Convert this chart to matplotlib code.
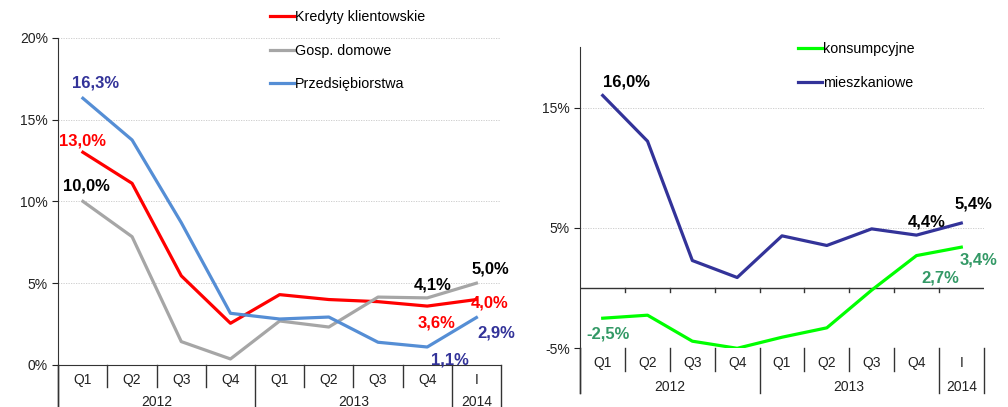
import matplotlib
matplotlib.use("Agg")
import matplotlib.pyplot as plt
import matplotlib.transforms as mtransforms
from matplotlib.lines import Line2D

plt.rcParams['font.family'] = ['Liberation Sans', 'DejaVu Sans']

# ---------------- data ----------------
quarters = ["Q1", "Q2", "Q3", "Q4", "Q1", "Q2", "Q3", "Q4", "I"]
years = ["2012", "2013", "2014"]
year_spans = [(0, 4), (4, 8), (8, 9)]

kredyty = [13.0, 11.1, 5.45, 2.55, 4.3, 4.0, 3.87, 3.6, 4.0]
gosp = [10.0, 7.84, 1.43, 0.37, 2.69, 2.32, 4.15, 4.1, 5.0]
przeds = [16.3, 13.75, 8.7, 3.16, 2.81, 2.93, 1.39, 1.1, 2.9]

konsump = [-2.5, -2.25, -4.41, -5.0, -4.08, -3.3, -0.17, 2.7, 3.4]
mieszk = [16.0, 12.2, 2.29, 0.88, 4.34, 3.54, 4.92, 4.4, 5.4]

# labels: (series, index, text)
left_labels = [
    ("przeds", 0, "16,3%"), ("kredyty", 0, "13,0%"), ("gosp", 0, "10,0%"),
    ("gosp", 7, "4,1%"), ("gosp", 8, "5,0%"), ("kredyty", 8, "4,0%"),
    ("kredyty", 7, "3,6%"), ("przeds", 8, "2,9%"), ("przeds", 7, "1,1%"),
]
right_labels = [
    ("mieszk", 0, "16,0%"), ("mieszk", 8, "5,4%"), ("mieszk", 7, "4,4%"),
    ("konsump", 8, "3,4%"), ("konsump", 7, "2,7%"), ("konsump", 0, "-2,5%"),
]

# ---------------- styles ----------------
W, H = 1008, 407
C_RED = "#FF0000"
C_GRAY = "#A6A6A6"
C_BLUE = "#558ED5"
C_NAVY = "#333399"
C_LIME = "#00FF00"
C_GREEN = "#339966"
LW = 2.3
FS_TICK = 10
FS_LEG = 10.3
FS_ANN = 12
FS_CAT = 10

series_left = {"kredyty": kredyty, "gosp": gosp, "przeds": przeds}
series_right = {"konsump": konsump, "mieszk": mieszk}
label_style = {
    ("przeds", 0): (C_NAVY, 13, 15), ("kredyty", 0): (C_RED, 0, 11),
    ("gosp", 0): ("black", 4, 15), ("gosp", 7): ("black", 5, 13),
    ("gosp", 8): ("black", 14, 14), ("kredyty", 8): (C_RED, 13, -3),
    ("kredyty", 7): (C_RED, 9, -17), ("przeds", 8): (C_NAVY, 20, -15),
    ("przeds", 7): (C_NAVY, 23, -13),
    ("mieszk", 0): ("black", 24, 13), ("mieszk", 8): ("black", 12, 19),
    ("mieszk", 7): ("black", 10, 13), ("konsump", 8): (C_GREEN, 17, -13),
    ("konsump", 7): (C_GREEN, 24, -22), ("konsump", 0): (C_GREEN, 5, -16),
}

fig = plt.figure(figsize=(W / 100, H / 100), dpi=100)


def px_axes(l, r, t, b):
    return fig.add_axes([l / W, (H - b) / H, (r - l) / W, (b - t) / H])


def category_axis(ax, ax_h_px, q_y, yr_y, qsep, yrsep, fs=FS_CAT):
    tr = mtransforms.blended_transform_factory(ax.transData, ax.transAxes)
    n = len(quarters)
    for i, q in enumerate(quarters):
        ax.text(i, -q_y / ax_h_px, q, transform=tr, ha="center", va="center",
                fontsize=fs, color="#222222", clip_on=False)
    for (a, b), y in zip(year_spans, years):
        ax.text((a + b - 1) / 2, -yr_y / ax_h_px, y, transform=tr, ha="center",
                va="center", fontsize=fs, color="#222222", clip_on=False)
    year_bounds = {a for a, b in year_spans} | {n}
    for k in range(0, n + 1):
        x = k - 0.5
        depth = yrsep if k in year_bounds else qsep
        ax.add_line(Line2D([x, x], [0, -depth / ax_h_px], transform=tr,
                           color="#333333", lw=1.0, clip_on=False))


def style_y(ax):
    for s in ["top", "right"]:
        ax.spines[s].set_visible(False)
    ax.spines["left"].set_color("#333333")
    ax.tick_params(axis="y", direction="out", length=4, labelsize=FS_TICK,
                   colors="#222222", width=0.8)
    ax.tick_params(axis="x", length=0, labelbottom=False)
    ax.set_xticks([])
    ax.grid(axis="y", linestyle=(0, (1.5, 1.5)), color="#C8C8C8", lw=0.6)
    ax.set_axisbelow(True)


def annotate(ax, series, labels):
    for key, i, txt in labels:
        col, dx, dy = label_style[(key, i)]
        ax.annotate(txt, xy=(i, series[key][i]), xytext=(dx, dy),
                    textcoords="offset pixels", ha="center", va="center",
                    fontsize=FS_ANN, fontweight="bold", color=col,
                    annotation_clip=False)


x = list(range(len(quarters)))

# ---------------- left panel ----------------
axL = px_axes(58.3, 501, 37.7, 365)
axL.set_xlim(-0.5, len(quarters) - 0.5)
axL.set_ylim(0, 20)
axL.set_yticks([0, 5, 10, 15, 20])
axL.set_yticklabels([f"{v}%" for v in [0, 5, 10, 15, 20]])
style_y(axL)
axL.spines["bottom"].set_color("#333333")
axL.plot(x, kredyty, color=C_RED, lw=LW, label="Kredyty klientowskie")
axL.plot(x, gosp, color=C_GRAY, lw=LW, label="Gosp. domowe")
axL.plot(x, przeds, color=C_BLUE, lw=LW, label="Przedsiębiorstwa")
annotate(axL, series_left, left_labels)
hL = 365 - 37.7
category_axis(axL, hL, 15, 37, 22, 42)
axL.add_line(Line2D([0, 0], [0, -42 / hL], transform=axL.transAxes,
                    color="#333333", lw=1.0, clip_on=False))
axL.legend(loc="upper left", bbox_to_anchor=(270 / W, (H - 10) / H),
           bbox_transform=fig.transFigure, frameon=False, fontsize=FS_LEG,
           handlelength=1.65, handletextpad=0.1, labelspacing=1.38,
           borderpad=0, borderaxespad=0)

# ---------------- right panel ----------------
axR = px_axes(580.3, 983.7, 47.3, 348.3)
axR.set_xlim(-0.5, len(quarters) - 0.5)
axR.set_ylim(-5, 20)
axR.set_yticks([-5, 5, 15])
axR.set_yticklabels([f"{v}%" for v in [-5, 5, 15]])
style_y(axR)
axR.spines["bottom"].set_visible(False)
axR.axhline(0, color="#333333", lw=1.0)
for k in range(1, len(quarters)):
    axR.plot([k - 0.5, k - 0.5], [0, -0.35], color="#333333", lw=1.0)
axR.plot(x, konsump, color=C_LIME, lw=LW, label="konsumpcyjne")
axR.plot(x, mieszk, color=C_NAVY, lw=LW, label="mieszkaniowe")
annotate(axR, series_right, right_labels)
hR = 348.3 - 47.3
category_axis(axR, hR, 15, 39, 23, 45)
axR.add_line(Line2D([0, 0], [0, -45 / hR], transform=axR.transAxes,
                    color="#333333", lw=1.0, clip_on=False))
axR.legend(loc="upper left", bbox_to_anchor=(798 / W, (H - 42) / H),
           bbox_transform=fig.transFigure, frameon=False, fontsize=FS_LEG,
           handlelength=1.65, handletextpad=0.1, labelspacing=1.38,
           borderpad=0, borderaxespad=0)

fig.savefig("out.png", dpi=100)
